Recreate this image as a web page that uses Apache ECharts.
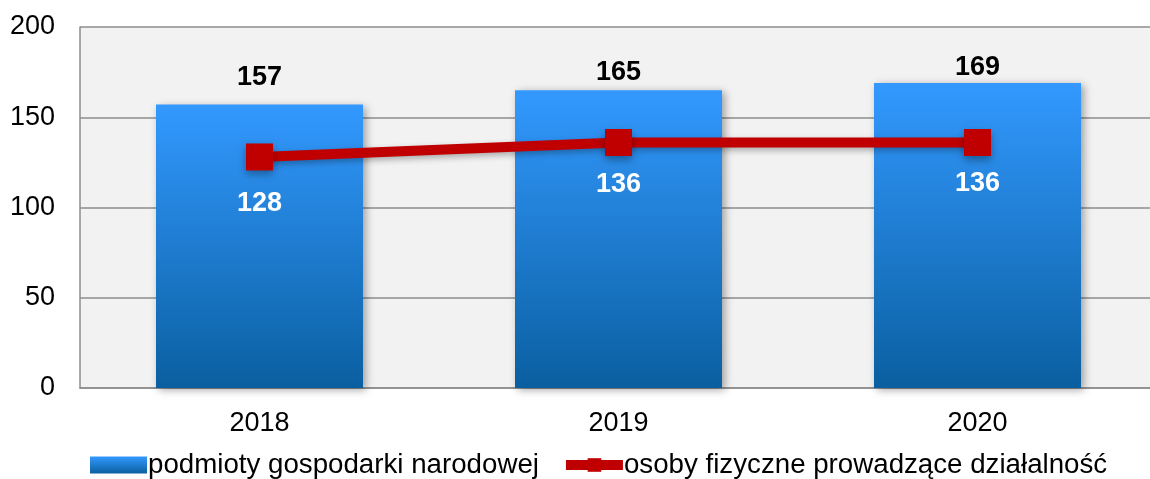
<!DOCTYPE html>
<html><head><meta charset="utf-8">
<script src="https://cdn.jsdelivr.net/npm/echarts@6/dist/echarts.min.js"></script>
<style>html,body{margin:0;padding:0;background:#fff;overflow:hidden}#c{width:1157px;height:479px}</style>
</head><body><div id="c"></div>
<script>
const categories = ['2018', '2019', '2020'];
const barName = 'podmioty gospodarki narodowej';
const lineName = 'osoby fizyczne prowadzące działalność';
const barValues = [157, 165, 169];
const lineValues = [128, 136, 136];
const yTicks = { min: 0, max: 200, interval: 50 };

// label placement (style only, not data)
const barLabelGap = [14, 4, 2];
const lineLabelGap = [20, 15.5, 14];

const chart = echarts.init(document.getElementById('c'));
const font = 'Liberation Sans, Arial, sans-serif';
const barGrad = () => new echarts.graphic.LinearGradient(0,0,0,1,[{offset:0,color:'#3399ff'},{offset:1,color:'#0a5fa0'}]);
chart.setOption({
  animation: false,
  textStyle: { fontFamily: font },
  grid: { left: 80, top: 27, right: 0, height: 361, backgroundColor: '#f2f2f2', show: true, borderWidth: 0 },
  legend: {
    top: 446, left: 85, itemGap: 22,
    textStyle: { fontSize: 27.7, color: '#000', fontFamily: font, padding: [0, 0, 0, -4] },
    data: [
      { name: barName, icon: 'rect', itemStyle: { color: barGrad() } },
      { name: lineName, lineStyle: { width: 10, color: '#c00000' }, itemStyle: { color: '#c00000' } }
    ],
    itemWidth: 57, itemHeight: 17
  },
  xAxis: {
    type: 'category', data: categories,
    axisLine: { lineStyle: { color: '#8c8c8c', width: 1.5 } },
    axisTick: { show: false },
    axisLabel: { fontSize: 27, color: '#000', margin: 22 }
  },
  yAxis: {
    type: 'value', min: yTicks.min, max: yTicks.max, interval: yTicks.interval,
    axisLine: { show: true, lineStyle: { color: '#8c8c8c', width: 1.5 } },
    axisTick: { show: false },
    axisLabel: { fontSize: 27, color: '#000', margin: 25 },
    splitLine: { lineStyle: { color: '#8c8c8c', width: 1.5 } }
  },
  series: [
    {
      name: barName, type: 'bar', barWidth: 207,
      data: barValues.map((v, i) => ({ value: v, label: { distance: barLabelGap[i] } })),
      itemStyle: {
        color: barGrad(),
        shadowColor: 'rgba(0,0,0,0.35)', shadowBlur: 8, shadowOffsetX: 3, shadowOffsetY: 2
      },
      label: { show: true, position: 'top', fontSize: 27, fontWeight: 'bold', color: '#000' }
    },
    {
      name: lineName, type: 'line',
      data: lineValues.map((v, i) => ({ value: v, label: { distance: lineLabelGap[i] } })),
      symbol: 'rect', symbolSize: 27,
      lineStyle: { color: '#c00000', width: 10, shadowColor: 'rgba(0,0,0,0.3)', shadowBlur: 6, shadowOffsetY: 3 },
      itemStyle: { color: '#c00000', shadowColor: 'rgba(0,0,0,0.35)', shadowBlur: 8, shadowOffsetY: 4 },
      label: { show: true, position: 'bottom', fontSize: 27, fontWeight: 'bold', color: '#fff' },
      z: 5
    }
  ]
});
</script></body></html>
